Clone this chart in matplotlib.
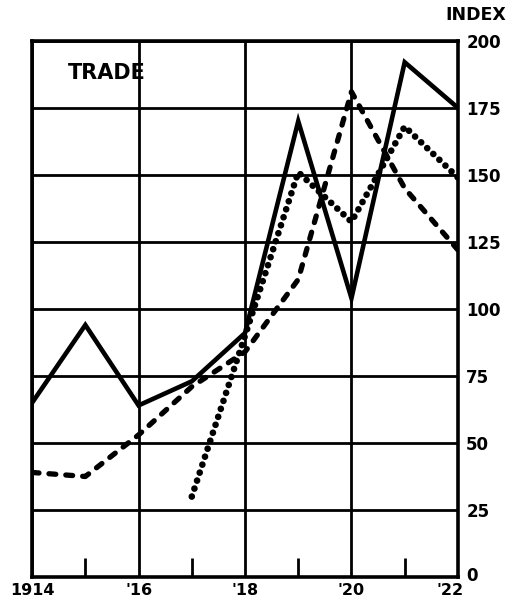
import matplotlib
matplotlib.use("Agg")
import matplotlib.pyplot as plt
from matplotlib.transforms import ScaledTranslation

years = [1914, 1915, 1916, 1917, 1918, 1919, 1920, 1921, 1922]
solid_vals = [65, 94, 64, 73, 91, 170, 104, 192, 175]
dashed_vals = [39, 37.5, 53, 71, 84, 111, 181, 145, 122]
dotted_years = [1917, 1918, 1919, 1920, 1921, 1922]
dotted_vals = [30, 90, 151, 132.5, 168, 149]

major_years = [1914, 1916, 1918, 1920, 1922]
major_labels = ["1914", "'16", "'18", "'20", "'22"]
minor_years = [1915, 1917, 1919, 1921]
y_ticks = [0, 25, 50, 75, 100, 125, 150, 175, 200]

plt.rcParams['font.family'] = ['DejaVu Sans']
fig = plt.figure(figsize=(5.18, 6.09), dpi=100)
ax = fig.add_axes([0.062, 0.0525, 0.822, 0.8805])

ax.plot(years, solid_vals, color='black', lw=3.3, solid_joinstyle='miter', zorder=3)
ax.plot(years, dashed_vals, color='black', lw=3.8, linestyle=(0, (1.3, 1.9)),
        dash_capstyle='round', zorder=3)
ax.plot(dotted_years, dotted_vals, color='black', lw=4.8, linestyle=(0, (0.01, 1.25)),
        dash_capstyle='round', zorder=3)

ax.set_xlim(1914, 1922)
ax.set_ylim(0, 200)

ax.set_xticks(major_years)
ax.set_xticklabels(major_labels, fontsize=11.5, fontweight='bold')
ax.set_xticks(minor_years, minor=True)
ax.set_yticks(y_ticks)
ax.set_yticklabels([str(v) for v in y_ticks], fontsize=12, fontweight='bold')
ax.yaxis.tick_right()

ax.grid(True, which='major', color='black', lw=2.0)
ax.tick_params(axis='both', which='major', length=0)
ax.tick_params(axis='x', which='major', pad=4)
ax.tick_params(axis='y', which='major', pad=6)
ax.tick_params(axis='x', which='minor', direction='in', length=14, width=2.0,
               color='black', top=False)

# nudge the last x label left and the 0 label up so they don't collide
last_lbl = ax.get_xticklabels()[-1]
last_lbl.set_transform(last_lbl.get_transform() + ScaledTranslation(-6 / 72, 0, fig.dpi_scale_trans))
zero_lbl = ax.get_yticklabels()[0]
zero_lbl.set_transform(zero_lbl.get_transform() + ScaledTranslation(0, 2 / 72, fig.dpi_scale_trans))

for s in ax.spines.values():
    s.set_linewidth(2.6)
    s.set_color('black')

ax.text(1914.68, 188, "TRADE", fontsize=15, fontweight='bold', va='center', ha='left')
fig.text(0.977, 0.975, "INDEX", fontsize=12.5, fontweight='bold', ha='right', va='center')

fig.savefig("out.png", dpi=100)
